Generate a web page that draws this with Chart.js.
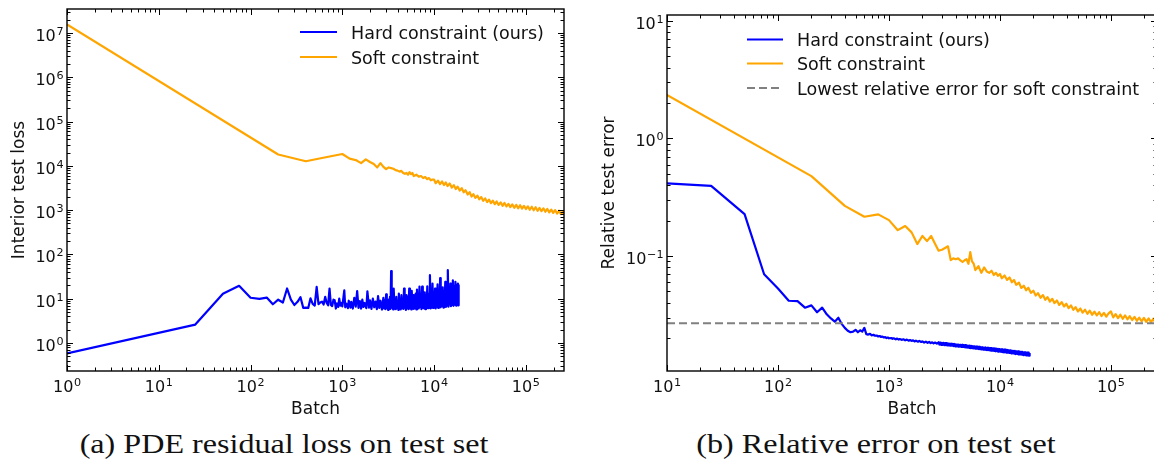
<!DOCTYPE html>
<html>
<head>
<meta charset="utf-8">
<script src="https://cdn.jsdelivr.net/npm/chart.js@4"></script>
<style>
html,body{margin:0;padding:0;background:#fff;width:1154px;height:468px;overflow:hidden;}
#wrap{position:relative;width:1154px;height:468px;overflow:hidden;background:#fff;}
canvas{position:absolute;top:0;}
#cL{left:0;}
#cR{left:590px;}
.cap{position:absolute;top:430px;font-family:"Liberation Serif",serif;font-size:27px;line-height:28px;text-align:center;color:#111;white-space:nowrap;transform:scaleX(1.19);}
#capL{left:0;width:568px;}
#capR{left:600px;width:552px;}
</style>
</head>
<body>
<div id="wrap">
  <canvas id="cL" width="580" height="420"></canvas>
  <canvas id="cR" width="580" height="420"></canvas>
  <div class="cap" id="capL">(a) PDE residual loss on test set</div>
  <div class="cap" id="capR">(b) Relative error on test set</div>
</div>
<script>
// ---------------- DATA ----------------
const seriesLabels = ['Hard constraint (ours)', 'Soft constraint', 'Lowest relative error for soft constraint'];

const hardBatches = [1,25,50,75,100,125,150,175,200,225,250,275,300,325,350,375,400,425,450,475,500,525,550,575,600,625,650,675,700,725,750,775,800,825,850,875,900,925,950,975,1000,
  1050,1075,1100,1150,1175,1225,1250,1300,1350,1400,1450,1500,1550,1600,1650,1700,1750,1825,1875,1950,
  2000,2075,2150,2225,2300,2375,2450,2525,2600,2700,
  2800,2850,2900,2950,3000,3050,3100,3150,3200,3250,
  3300,3350,3400,3450,3500,3575,3625,3700,3750,3825,
  3875,3950,4000,4075,4125,4200,4250,4325,4400,4475,
  4550,4625,4700,4775,4850,4925,5000,5100,5175,5275,
  5350,5450,5525,5625,5700,5800,5900,6000,6100,6200,
  6300,6400,6500,6600,6700,6800,6925,7050,7150,7275,
  7400,7525,7650,7775,7900,8025,8150,8300,8425,8575,
  8700,8850,9000,9150,9300,9450,9600,9750,9900,10075,
  10225,10400,10550,10725,10900,11075,11250,11450,11625,11800,
  12000,12200,12400,12600,12800,13000,13225,13425,13650,13875,
  14100,14325,14550,14800,15025,15250,15500,15750,16000,16250,
  16525,16800,17050,17325,17600,17875,18150,18325,18500];

const hardLoss = [0.58,2.6,12.9,19.5,10.5,9.9,10.6,7.5,9.5,8.2,17,9.5,7.2,8.5,10.8,6.2,6.3,6.2,10.2,7.6,7.0,18.5,7.5,8.2,8.6,7.4,11,8,7.1,17,7.2,6.8,9.5,9.2,6,7.8,6.5,10,7,8,6.7,
  15.5,6.4,7.8,6.1,9.0,6.3,8.5,6.0,10.5,6.6,14.9,6.2,8.8,6.0,9.5,6.5,8.0,6.1,14.7,6.3,
  9.2,5.9,10.0,6.4,8.6,5.8,11.5,6.2,9.0,5.7,
  10.5,6.0,9.0,5.8,12.6,6.2,8.5,5.6,9.5,6.1,
  11,5.9,42,6.3,10,5.7,17,6.0,9.5,5.8,
  11,6.2,9,5.6,13,6.4,10,5.7,12,6.1,
  9.5,5.9,17,6.3,10.5,5.6,12,6.0,11,5.8,
  17,6.2,10,5.7,15,6.4,12,5.9,11,6.1,
  13,5.7,16,6.3,12,6.0,18.7,6.5,12,5.8,
  18.7,6.2,13,6.0,14,5.8,12,6.4,19,6.1,
  13,6.6,34,6.0,15,6.3,22,6.2,14,6.5,
  17,6.0,15,6.6,21,6.2,14,6.8,29,6.4,
  16,6.9,18,6.3,15,7.2,24,6.5,16,7.0,
  44,6.6,17,7.4,22,6.8,18,7.2,26,6.9,
  19,7.3,24,7.0,20,7.4,22,7.1,21];

const hardRelErr = [0.468,0.395,0.227,0.070,0.053,0.0417,0.0414,0.0364,0.0381,0.0333,0.0364,0.032,0.0295,0.0277,0.0299,0.0265,0.0245,0.0232,0.0225,0.0228,0.0236,0.0225,0.0234,0.0228,0.0245,0.0217,0.0215,0.0218,0.0212,0.0214,0.021,0.0211,0.0207,0.0209,0.0205,0.0207,0.0203,0.0205,0.0201,0.0203,0.02,
  0.0201,0.0198,0.02,0.0196,0.0199,0.0195,0.0197,0.0194,0.0196,0.0192,0.0195,0.0191,0.0193,0.019,0.0192,0.0188,0.0191,0.0187,0.019,0.0186,
  0.0188,0.0184,0.0187,0.0183,0.0186,0.0182,0.0185,0.0181,0.0184,0.018,
  0.0185,0.0177,0.0184,0.0176,0.0183,0.0176,0.0183,0.0175,0.0182,0.0175,
  0.0182,0.0174,0.0181,0.0174,0.018,0.0173,0.018,0.0173,0.0179,0.0172,
  0.0179,0.0171,0.0178,0.0171,0.0177,0.017,0.0177,0.017,0.0176,0.0169,
  0.0176,0.0169,0.0175,0.0168,0.0175,0.0167,0.0174,0.0167,0.0173,0.0166,
  0.0173,0.0165,0.0172,0.0165,0.0172,0.0164,0.0171,0.0163,0.017,0.0163,
  0.017,0.0162,0.0169,0.0162,0.0168,0.0161,0.0168,0.016,0.0167,0.016,
  0.0167,0.0159,0.0166,0.0159,0.0166,0.0158,0.0165,0.0157,0.0165,0.0157,
  0.0164,0.0156,0.0164,0.0155,0.0163,0.0155,0.0163,0.0154,0.0162,0.0154,
  0.0161,0.0153,0.0161,0.0152,0.016,0.0152,0.016,0.0151,0.0159,0.0151,
  0.0158,0.015,0.0158,0.0149,0.0157,0.0149,0.0156,0.0148,0.0156,0.0147,
  0.0155,0.0147,0.0155,0.0146,0.0154,0.0146,0.0153,0.0145,0.0153,0.0144,
  0.0152,0.0144,0.0152,0.0143,0.0151,0.0143,0.0151,0.0142,0.015];

const softBatches = [1,200,400,600,800,1000,1200,1400,1600,1800,
  2000,2200,2400,2600,2800,3000,3200,3400,3600,3800,
  4000,4200,4400,4600,4800,5000,5200,5400,5600,5800,
  6000,6400,6800,7200,7600,8000,8400,8800,9200,9600,
  10000,10400,11000,11600,12200,12800,13400,14000,14800,15600,
  16400,17200,18000,19000,20000,21000,22000,23200,24400,25600,
  26800,28200,29600,31000,32600,34200,36000,37800,39600,41600,
  43600,45800,48000,50400,53000,55600,58400,61400,64400,67600,
  71000,74600,78400,82200,86400,90800,95200,100000,105000,110200,
  115800,121600,127600,134000,140800,147800,155200,163000,171200,179800,
  188800,198200,208000,218400,229400,240800,252800,260000];

const softLoss = [1.55e7,1.8e4,1.27e4,1.5e4,1.69e4,1.85e4,1.45e4,1.35e4,1.15e4,1.4e4,
  1.22e4,1.1e4,9.2e3,1.15e4,9.5e3,8.4e3,9.2e3,8.9e3,8.6e3,8.0e3,
  7.8e3,7.4e3,7.7e3,6.9e3,6.6e3,6.9e3,6.3e3,7.2e3,6.5e3,6.9e3,
  5.9e3,6.3e3,5.7e3,5.9e3,5.3e3,5.6e3,5.0e3,5.3e3,4.7e3,4.9e3,
  4.86e3,4.05e3,4.64e3,3.86e3,4.43e3,3.68e3,4.21e3,3.5e3,4.0e3,3.22e3,
  3.67e3,2.99e3,3.4e3,2.76e3,3.13e3,2.53e3,2.81e3,2.25e3,2.54e3,2.02e3,
  2.29e3,1.89e3,2.13e3,1.75e3,1.97e3,1.62e3,1.84e3,1.52e3,1.73e3,1.44e3,
  1.64e3,1.36e3,1.57e3,1.31e3,1.5e3,1.25e3,1.45e3,1.21e3,1.39e3,1.17e3,
  1.35e3,1.13e3,1.32e3,1.1e3,1.29e3,1.08e3,1.25e3,1.06e3,1.22e3,1.02e3,
  1.19e3,994,1.16e3,966,1.12e3,948,1.1e3,920,1.06e3,892,
  1.03e3,865,999,837,967,810,934,782];

const softRelErr = [7.9,0.478,0.267,0.216,0.226,0.202,0.166,0.18,0.159,0.1265,
  0.148,0.134,0.148,0.127,0.111,0.113,0.117,0.121,0.0925,0.0955,
  0.094,0.0955,0.092,0.089,0.092,0.094,0.086,0.108,0.09,0.086,
  0.076,0.082,0.072,0.08,0.074,0.072,0.075,0.069,0.072,0.068,
  0.0704,0.0647,0.0683,0.0627,0.0657,0.0598,0.0626,0.0569,0.0595,0.0536,
  0.0559,0.0511,0.0538,0.0487,0.0507,0.0461,0.0484,0.0442,0.0466,0.0425,
  0.0448,0.041,0.0433,0.0398,0.0419,0.0384,0.0406,0.0373,0.0393,0.0361,
  0.0381,0.0349,0.0368,0.0338,0.0358,0.033,0.035,0.0323,0.0344,0.0317,
  0.0337,0.0313,0.0333,0.0309,0.0329,0.0305,0.0326,0.0338,0.0301,0.0321,
  0.0297,0.0317,0.0293,0.0313,0.029,0.0308,0.0286,0.0304,0.0282,0.03,
  0.0279,0.0298,0.0276,0.0295,0.0274,0.0293,0.0268,0.029];

const softLowestRelErr = 0.0268;

// axis ranges and decade tick labels (exponents of 10)
const leftXRange = [1, 2.6e5];
const leftYRange = [0.233, 3.48e7];
const rightXRange = [10, 2.6e5];
const rightYRange = [0.01054, 11.2];
const leftXDecades = [0, 1, 2, 3, 4, 5];
const leftYDecades = [0, 1, 2, 3, 4, 5, 6, 7];
const rightXDecades = [1, 2, 3, 4, 5];
const rightYDecades = [-1, 0, 1];
const xTitle = 'Batch';
const leftYTitle = 'Interior test loss';
const rightYTitle = 'Relative test error';

// ---------------- DRAWING ----------------
const SANS = '"DejaVu Sans", sans-serif';
const TXT = '#111';

function pts(xs, ys) { return xs.map((x, i) => ({ x: x, y: ys[i] })); }

function drawPow(ctx, exp, x, baseline, align) {
  const base = '10';
  const sup = exp < 0 ? '\u2212' + Math.abs(exp) : String(exp);
  ctx.font = '16px ' + SANS;
  const wb = ctx.measureText(base).width;
  ctx.font = '11.2px ' + SANS;
  const ws = ctx.measureText(sup).width;
  const total = wb + 0.6 + ws;
  const x0 = align === 'center' ? x - total / 2 : x - total;
  ctx.textAlign = 'left';
  ctx.textBaseline = 'alphabetic';
  ctx.fillStyle = TXT;
  ctx.font = '16px ' + SANS;
  ctx.fillText(base, x0, baseline);
  ctx.font = '11.2px ' + SANS;
  ctx.fillText(sup, x0 + wb + 0.6, baseline - 6);
}

function decadeVals(min, max) {
  const out = [];
  for (let d = Math.floor(Math.log10(min)); d <= Math.ceil(Math.log10(max)); d++) {
    const v = Math.pow(10, d);
    if (v >= min * 0.9999 && v <= max * 1.0001) out.push(v);
  }
  return out;
}
function minorVals(min, max) {
  const out = [];
  for (let d = Math.floor(Math.log10(min)) - 1; d <= Math.ceil(Math.log10(max)); d++) {
    for (let k = 2; k <= 9; k++) {
      const v = k * Math.pow(10, d);
      if (v > min && v < max) out.push(v);
    }
  }
  return out;
}

function axesPlugin(cfg) {
  return {
    id: 'mplAxes',
    afterDraw(chart) {
      const ctx = chart.ctx, a = chart.chartArea;
      const xs = chart.scales.x, ys = chart.scales.y;
      ctx.save();
      ctx.strokeStyle = '#000';
      ctx.lineWidth = 1.4;
      ctx.strokeRect(a.left, a.top, a.right - a.left, a.bottom - a.top);
      ctx.lineWidth = 1;
      const MAJ = 6, MIN = 3.5;
      function xt(v, len) {
        const p = Math.round(xs.getPixelForValue(v)) + 0.5;
        ctx.beginPath();
        ctx.moveTo(p, a.bottom); ctx.lineTo(p, a.bottom - len);
        ctx.moveTo(p, a.top); ctx.lineTo(p, a.top + len);
        ctx.stroke();
      }
      function yt(v, len) {
        const p = Math.round(ys.getPixelForValue(v)) + 0.5;
        ctx.beginPath();
        ctx.moveTo(a.left, p); ctx.lineTo(a.left + len, p);
        ctx.moveTo(a.right, p); ctx.lineTo(a.right - len, p);
        ctx.stroke();
      }
      minorVals(xs.min, xs.max).forEach(v => xt(v, MIN));
      decadeVals(xs.min, xs.max).forEach(v => xt(v, MAJ));
      minorVals(ys.min, ys.max).forEach(v => yt(v, MIN));
      decadeVals(ys.min, ys.max).forEach(v => yt(v, MAJ));
      cfg.xDecades.forEach(e => drawPow(ctx, e, xs.getPixelForValue(Math.pow(10, e)), a.bottom + 20.5, 'center'));
      cfg.yDecades.forEach(e => drawPow(ctx, e, a.left - 3.5, ys.getPixelForValue(Math.pow(10, e)) + 8, 'right'));
      ctx.fillStyle = TXT;
      ctx.font = '17px ' + SANS;
      ctx.textAlign = 'center';
      ctx.textBaseline = 'alphabetic';
      ctx.fillText(cfg.xTitle, (a.left + a.right) / 2, 414);
      ctx.save();
      ctx.translate(23.5, (a.top + a.bottom) / 2);
      ctx.rotate(-Math.PI / 2);
      ctx.fillText(cfg.yTitle, 0, 0);
      ctx.restore();
      const L = cfg.legend;
      cfg.legendLabels.forEach((lab, i) => {
        const ds = chart.data.datasets.find(d => d.label === lab);
        const y = L.rows[i];
        ctx.save();
        ctx.strokeStyle = ds.borderColor;
        ctx.lineWidth = ds.borderWidth;
        ctx.setLineDash(ds.borderDash || []);
        ctx.beginPath();
        ctx.moveTo(L.x0, y); ctx.lineTo(L.x1, y);
        ctx.stroke();
        ctx.restore();
        ctx.fillStyle = TXT;
        ctx.font = '17.5px ' + SANS;
        ctx.textAlign = 'left';
        ctx.textBaseline = 'alphabetic';
        ctx.fillText(lab, L.tx, y + 6.5);
      });
      ctx.restore();
    }
  };
}

function lineDs(label, data, color, order, extra) {
  return Object.assign({
    label: label, data: data, borderColor: color, borderWidth: 2.2,
    pointRadius: 0, tension: 0, fill: false, order: order,
    borderJoinStyle: 'round', borderCapStyle: 'butt'
  }, extra || {});
}

function makeChart(id, datasets, xr, yr, yWidth, pad, cfg) {
  return new Chart(document.getElementById(id), {
    type: 'line',
    data: { datasets: datasets },
    options: {
      responsive: false, animation: false, devicePixelRatio: 1,
      normalized: true,
      layout: { padding: pad },
      plugins: { legend: { display: false }, tooltip: { enabled: false } },
      scales: {
        x: { type: 'logarithmic', min: xr[0], max: xr[1],
             grid: { display: false }, border: { display: false }, ticks: { display: false },
             afterFit(s) { s.height = 49; } },
        y: { type: 'logarithmic', min: yr[0], max: yr[1],
             grid: { display: false }, border: { display: false }, ticks: { display: false },
             afterFit(s) { s.width = yWidth; } }
      }
    },
    plugins: [axesPlugin(cfg)]
  });
}

makeChart('cL',
  [lineDs(seriesLabels[0], pts(hardBatches, hardLoss), '#0000ff', 1),
   lineDs(seriesLabels[1], pts(softBatches, softLoss), '#ffa500', 0)],
  leftXRange, leftYRange, 67, { left: 0, top: 9, right: 16, bottom: 0 },
  { xDecades: leftXDecades, yDecades: leftYDecades, xTitle: xTitle, yTitle: leftYTitle,
    legendLabels: [seriesLabels[0], seriesLabels[1]],
    legend: { x0: 300, x1: 337, tx: 351, rows: [32, 57] } });

makeChart('cR',
  [lineDs(seriesLabels[0], pts(hardBatches, hardRelErr), '#0000ff', 2),
   lineDs(seriesLabels[1], pts(softBatches, softRelErr), '#ffa500', 1),
   lineDs(seriesLabels[2], [{ x: rightXRange[0], y: softLowestRelErr }, { x: rightXRange[1], y: softLowestRelErr }], '#808080', 0, { borderDash: [8, 4], borderWidth: 2 })],
  rightXRange, rightYRange, 77, { left: 0, top: 15, right: 13, bottom: 0 },
  { xDecades: rightXDecades, yDecades: rightYDecades, xTitle: xTitle, yTitle: rightYTitle,
    legendLabels: seriesLabels,
    legend: { x0: 157, x1: 193, tx: 207, rows: [39.5, 63.5, 88] } });
</script>
</body>
</html>
